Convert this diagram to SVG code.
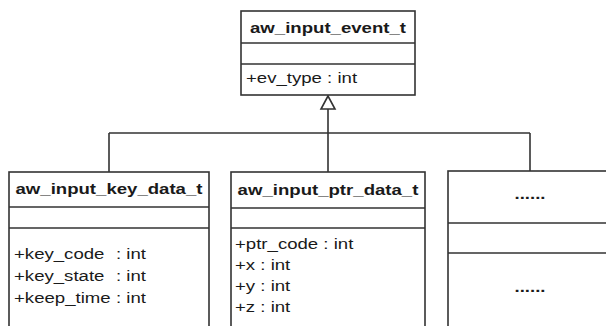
<svg xmlns="http://www.w3.org/2000/svg" width="606" height="326" viewBox="0 0 606 326">
<style>
.box{fill:#ffffff;stroke:#333333;stroke-width:1.6}
.div{stroke:#333333;stroke-width:1.6;fill:none}
.conn{stroke:#333333;stroke-width:1.6;fill:none}
.t{font-family:"Liberation Sans",Arial,sans-serif;font-size:15.5px;font-weight:bold;fill:#1a1a1a}
.a{font-family:"Liberation Sans",Arial,sans-serif;font-size:15.5px;fill:#1a1a1a}
.m{text-anchor:middle}
</style>
<rect width="606" height="326" fill="#ffffff"/>
<g id="connectors">
<path class="conn" d="M328 109 V133 M109 133 H530 M109 133 V172 M328 133 V172 M530 133 V171"/>
<polygon class="conn" points="328,96 321,109 335,109" fill="#ffffff"/>
</g>
<g id="aw_input_event_t">
<rect class="box" x="241" y="11" width="174" height="84"/>
<path class="div" d="M241 43 H415 M241 64 H415"/>
<text class="t m" transform="translate(328 33) scale(1.2 1)">aw_input_event_t</text>
<text class="a" transform="translate(246 83) scale(1.2 1)">+ev_type : int</text>
</g>
<g id="aw_input_key_data_t">
<rect class="box" x="9" y="172" width="200" height="160"/>
<path class="div" d="M9 207 H209 M9 228 H209"/>
<text class="t m" transform="translate(109 194) scale(1.2 1)">aw_input_key_data_t</text>
<text class="a" transform="translate(14 259) scale(1.2 1)">+key_code</text>
<text class="a" transform="translate(14 281) scale(1.2 1)">+key_state</text>
<text class="a" transform="translate(14 303) scale(1.2 1)">+keep_time</text>
<text class="a" transform="translate(116 259) scale(1.2 1)">: int</text>
<text class="a" transform="translate(116 281) scale(1.2 1)">: int</text>
<text class="a" transform="translate(116 303) scale(1.2 1)">: int</text>
</g>
<g id="aw_input_ptr_data_t">
<rect class="box" x="231" y="172" width="194" height="160"/>
<path class="div" d="M231 208 H425 M231 228 H425"/>
<text class="t m" transform="translate(328 195) scale(1.2 1)">aw_input_ptr_data_t</text>
<text class="a" transform="translate(235 249) scale(1.2 1)">+ptr_code : int</text>
<text class="a" transform="translate(235 270) scale(1.2 1)">+x : int</text>
<text class="a" transform="translate(235 291) scale(1.2 1)">+y : int</text>
<text class="a" transform="translate(235 312) scale(1.2 1)">+z : int</text>
</g>
<g id="more">
<rect class="box" x="448" y="171" width="170" height="161"/>
<path class="div" d="M448 223 H618 M448 253 H618"/>
<text class="t m" transform="translate(530 199) scale(1.2 1)">......</text>
<text class="t m" transform="translate(530 292) scale(1.2 1)">......</text>
</g>
</svg>
